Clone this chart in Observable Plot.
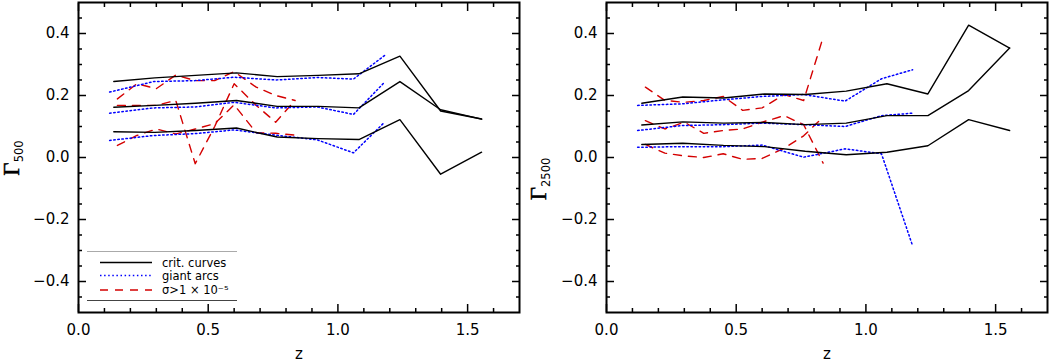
<!DOCTYPE html>
<html><head><meta charset="utf-8">
<script src="https://cdn.jsdelivr.net/npm/d3@7"></script>
<script src="https://cdn.jsdelivr.net/npm/@observablehq/plot@0.6"></script>
<style>
html,body{margin:0;padding:0;background:#fff;}
#wrap{position:relative;width:1049px;height:364px;display:flex;}
#wrap svg{overflow:visible;}
#legend{position:absolute;left:0;top:0;pointer-events:none;}
</style></head><body><div id="wrap"></div>
<script>
// ---- redshift bins ----
const zCrit = [0.136, 0.294, 0.451, 0.609, 0.766, 0.924, 1.081, 1.239, 1.396, 1.554];
const zArcs = [0.12, 0.29, 0.45, 0.60, 0.76, 0.92, 1.06, 1.18];
const zSig  = [0.15, 0.225, 0.30, 0.375, 0.45, 0.525, 0.60, 0.685, 0.76, 0.835];

// ---- Gamma_500 panel ----
const crit500Hi  = [0.245, 0.257, 0.265, 0.273, 0.261, 0.265, 0.270, 0.327, 0.150, 0.124];
const crit500Mid = [0.162, 0.168, 0.175, 0.184, 0.165, 0.165, 0.160, 0.245, 0.154, 0.124];
const crit500Lo  = [0.083, 0.081, 0.087, 0.095, 0.066, 0.061, 0.058, 0.122, -0.054, 0.017];
const arcs500Hi  = [0.211, 0.245, 0.248, 0.259, 0.250, 0.258, 0.253, 0.329];
const arcs500Mid = [0.143, 0.160, 0.163, 0.178, 0.160, 0.163, 0.139, 0.243];
const arcs500Lo  = [0.055, 0.071, 0.077, 0.089, 0.072, 0.057, 0.015, 0.114];
const sig500Hi   = [0.189, 0.238, 0.222, 0.266, 0.248, 0.248, 0.277, 0.227, 0.200, 0.184];
const sig500Mid  = [0.168, 0.168, 0.168, 0.184, -0.020, 0.100, 0.238, 0.168, 0.114, 0.184];
const sig500Lo   = [0.039, 0.071, 0.092, 0.076, 0.092, 0.109, 0.170, 0.080, 0.078, 0.072];

// ---- Gamma_2500 panel ----
const crit2500Hi  = [0.175, 0.195, 0.192, 0.205, 0.203, 0.214, 0.238, 0.205, 0.427, 0.353];
const crit2500Mid = [0.105, 0.115, 0.111, 0.113, 0.106, 0.111, 0.135, 0.135, 0.216, 0.353];
const crit2500Lo  = [0.042, 0.046, 0.039, 0.035, 0.020, 0.009, 0.017, 0.038, 0.122, 0.087];
const arcs2500Hi  = [0.168, 0.173, 0.186, 0.197, 0.203, 0.182, 0.254, 0.283];
const arcs2500Mid = [0.087, 0.103, 0.106, 0.111, 0.106, 0.100, 0.135, 0.143];
const arcs2500Lo  = [0.033, 0.035, 0.035, 0.040, 0.001, 0.028, 0.012, -0.285];
const sig2500Hi   = [0.227, 0.184, 0.178, 0.184, 0.197, 0.152, 0.160, 0.203, 0.184, 0.388];
const sig2500Mid  = [0.119, 0.092, 0.114, 0.078, 0.087, 0.092, 0.114, 0.135, 0.106, -0.018];
const sig2500Lo   = [0.042, 0.014, 0.005, 0.000, 0.012, -0.006, -0.003, 0.030, 0.070, 0.130];

// ---- ticks & labels ----
const xMajor = [0, 0.5, 1.0, 1.5];
const xMinor = [0.1, 0.2, 0.3, 0.4, 0.6, 0.7, 0.8, 0.9, 1.1, 1.2, 1.3, 1.4, 1.6];
const yMajor = [-0.4, -0.2, 0, 0.2, 0.4];
const yMinor = [-0.45, -0.35, -0.3, -0.25, -0.15, -0.1, -0.05, 0.05, 0.1, 0.15, 0.25, 0.3, 0.35, 0.45];
const xLabel = "z";
const legendLabels = ["crit. curves", "giant arcs", "σ>1 × 10⁻⁵"];

const RED = "#d40000", BLUE = "#0000ff";
const fmt = d3.format(".1f");

function rows(xs, ys, id) { return xs.map((x, i) => ({z: x, v: ys[i], id})); }

function panel({width, marginLeft, marginRight, crit, arcs, sig, sub}) {
  const critRows = crit.flatMap((ys, j) => rows(zCrit, ys, j));
  const arcsRows = arcs.flatMap((ys, j) => rows(zArcs, ys, j));
  const sigRows  = sig.flatMap((ys, j) => rows(zSig, ys, j));
  const svg = Plot.plot({
    width, height: 364,
    marginLeft, marginRight, marginTop: 2, marginBottom: 52,
    style: {fontFamily: "DejaVu Sans, sans-serif", fontSize: "15px", background: "#fff", overflow: "visible"},
    x: {domain: [0, 1.7]},
    y: {domain: [-0.5, 0.5]},
    marks: [
      Plot.line(sigRows,  {x: "z", y: "v", z: "id", stroke: RED,  strokeWidth: 1.4, strokeDasharray: "8,7"}),
      Plot.line(arcsRows, {x: "z", y: "v", z: "id", stroke: BLUE, strokeWidth: 1.5, strokeDasharray: "1.5,2.6"}),
      Plot.line(critRows, {x: "z", y: "v", z: "id", stroke: "#000", strokeWidth: 1.4}),
      Plot.frame({stroke: "#000", strokeWidth: 2}),
      Plot.axisX(xMajor, {anchor: "bottom", tickSize: 0, tickPadding: 12, tickFormat: fmt, fontSize: 15,
                          label: xLabel, labelAnchor: "center", labelArrow: "none", labelOffset: 46}),
      Plot.axisX(xMajor, {anchor: "bottom", tickSize: -8, strokeWidth: 1.5, fill: "none", label: null}),
      Plot.axisX(xMinor, {anchor: "bottom", tickSize: -4, strokeWidth: 1.5, fill: "none", label: null}),
      Plot.axisX(xMajor, {anchor: "top", tickSize: -8, strokeWidth: 1.5, fill: "none", label: null}),
      Plot.axisX(xMinor, {anchor: "top", tickSize: -4, strokeWidth: 1.5, fill: "none", label: null}),
      Plot.axisY(yMajor, {anchor: "left", tickSize: 0, tickPadding: 9, tickFormat: fmt, fontSize: 15, label: null}),
      Plot.axisY(yMajor, {anchor: "left", tickSize: -8, strokeWidth: 1.5, fill: "none", label: null}),
      Plot.axisY(yMinor, {anchor: "left", tickSize: -4, strokeWidth: 1.5, fill: "none", label: null}),
      Plot.axisY(yMajor, {anchor: "right", tickSize: -8, strokeWidth: 1.5, fill: "none", label: null}),
      Plot.axisY(yMinor, {anchor: "right", tickSize: -4, strokeWidth: 1.5, fill: "none", label: null})
    ]
  });
  // y-axis title  Γ with subscript
  const t = d3.select(svg).append("text")
    .attr("transform", `translate(${sub.x},${sub.y}) rotate(-90)`)
    .attr("fill", "#000");
  t.append("tspan").attr("font-family", "Liberation Serif, serif").attr("font-size", 23)
    .attr("stroke", "#000").attr("stroke-width", 0.5).text("Γ");
  t.append("tspan").attr("font-family", "DejaVu Sans, sans-serif").attr("font-size", 11.5).attr("dy", 4).text(sub.text);
  return svg;
}

const wrap = document.getElementById("wrap");
wrap.appendChild(panel({
  width: 525, marginLeft: 78, marginRight: 6,
  crit: [crit500Hi, crit500Mid, crit500Lo],
  arcs: [arcs500Hi, arcs500Mid, arcs500Lo],
  sig:  [sig500Hi, sig500Mid, sig500Lo],
  sub: {x: 19, y: 158, text: "500"}
}));
wrap.appendChild(panel({
  width: 524, marginLeft: 81, marginRight: 2,
  crit: [crit2500Hi, crit2500Mid, crit2500Lo],
  arcs: [arcs2500Hi, arcs2500Mid, arcs2500Lo],
  sig:  [sig2500Hi, sig2500Mid, sig2500Lo],
  sub: {x: 21, y: 179, text: "2500"}
}));

// legend (inside left panel)
const lg = d3.select(wrap).append("svg").attr("id", "legend").attr("width", 1049).attr("height", 364);
lg.append("line").attr("x1", 87).attr("x2", 237).attr("y1", 251.5).attr("y2", 251.5).attr("stroke", "#aaa").attr("stroke-width", 1);
lg.append("line").attr("x1", 87).attr("x2", 237).attr("y1", 300.5).attr("y2", 300.5).attr("stroke", "#444").attr("stroke-width", 1);
const styles = [
  {stroke: "#000", dash: null, w: 1.6},
  {stroke: BLUE, dash: "1.5,2.6", w: 1.6},
  {stroke: RED, dash: "8,7", w: 1.6}
];
const ly = [262.5, 275.5, 290];
legendLabels.forEach((lab, i) => {
  lg.append("line").attr("x1", 100).attr("x2", 152).attr("y1", ly[i]).attr("y2", ly[i])
    .attr("stroke", styles[i].stroke).attr("stroke-width", styles[i].w).attr("stroke-dasharray", styles[i].dash);
  lg.append("text").attr("x", 162).attr("y", ly[i]).attr("dy", "0.35em")
    .attr("font-family", "DejaVu Sans, sans-serif").attr("font-size", 11.5).attr("fill", "#000").text(lab);
});
</script></body></html>
